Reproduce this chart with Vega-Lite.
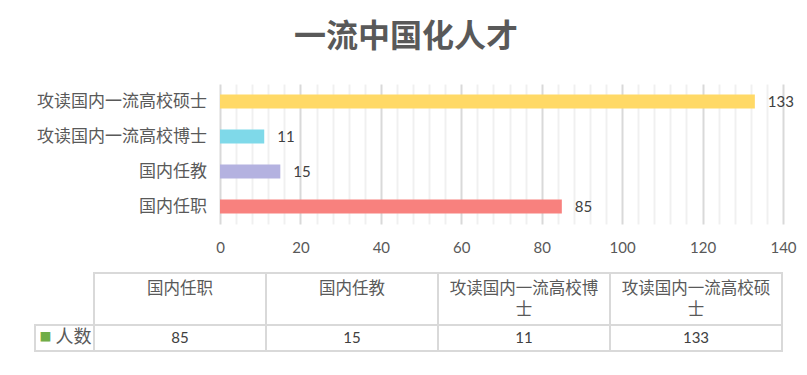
{
  "$schema": "https://vega.github.io/schema/vega-lite/v6.json",
  "padding": {"left": 34, "top": 21, "right": 10, "bottom": 10},
  "background": "white",
  "config": {
    "font": "Noto Sans CJK SC",
    "view": {"stroke": null}
  },
  "title": {
    "text": "一流中国化人才",
    "fontSize": 32,
    "fontWeight": "bold",
    "color": "#595959",
    "font": "Noto Sans CJK SC",
    "anchor": "middle",
    "dx": -9,
    "offset": 30
  },
  "datasets": {
    "talent": [
      {"category": "国内任职", "count": 85},
      {"category": "国内任教", "count": 15},
      {"category": "攻读国内一流高校博士", "count": 11},
      {"category": "攻读国内一流高校硕士", "count": 133}
    ],
    "rowhead": [
      {"label": "人数"}
    ]
  },
  "spacing": 17,
  "vconcat": [
    {
      "hconcat": [
        {
          "width": 185,
          "height": 140,
          "data": {"name": "talent"},
          "mark": {"type": "text", "align": "right", "baseline": "middle", "dx": -13, "fontSize": 17, "color": "#595959"},
          "encoding": {
            "x": {"value": "width"},
            "y": {
              "field": "category",
              "type": "nominal",
              "sort": ["攻读国内一流高校硕士", "攻读国内一流高校博士", "国内任教", "国内任职"],
              "scale": {"paddingInner": 0.6, "paddingOuter": 0.3},
              "axis": null
            },
            "text": {"field": "category"}
          }
        },
        {
          "width": 563,
          "height": 140,
          "data": {"name": "talent"},
          "encoding": {
            "y": {
              "field": "category",
              "type": "nominal",
              "sort": ["攻读国内一流高校硕士", "攻读国内一流高校博士", "国内任教", "国内任职"],
              "scale": {"paddingInner": 0.6, "paddingOuter": 0.3},
              "axis": null
            },
            "x": {
              "field": "count",
              "type": "quantitative",
              "scale": {"domain": [0, 140], "nice": false},
              "axis": {
                "title": null,
                "values": [0, 4, 8, 12, 16, 20, 24, 28, 32, 36, 40, 44, 48, 52, 56, 60, 64, 68, 72, 76, 80, 84, 88, 92, 96, 100, 104, 108, 112, 116, 120, 124, 128, 132, 136, 140],
                "labelExpr": "datum.value % 20 === 0 ? datum.label : ''",
                "grid": true,
                "gridColor": {"condition": {"test": "datum.value % 20 === 0", "value": "#d9d9d9"}, "value": "#f0f0f0"},
                "gridWidth": 2,
                "ticks": false,
                "tickSize": 0,
                "domain": false,
                "labelFont": "Lato",
                "labelFontSize": 15,
                "labelColor": "#595959",
                "labelPadding": 16,
                "labelFlush": false
              }
            }
          },
          "layer": [
            {
              "mark": {"type": "bar"},
              "encoding": {
                "color": {
                  "field": "category",
                  "type": "nominal",
                  "scale": {
                    "domain": ["国内任职", "国内任教", "攻读国内一流高校博士", "攻读国内一流高校硕士"],
                    "range": ["#F8817E", "#B4B2E0", "#7FD9E9", "#FFD966"]
                  },
                  "legend": null
                }
              }
            },
            {
              "mark": {"type": "text", "align": "left", "baseline": "middle", "dx": 13, "fontSize": 15, "font": "Lato", "color": "#404040"},
              "encoding": {
                "text": {"field": "count", "type": "quantitative"}
              }
            }
          ]
        }
      ],
      "spacing": 0,
      "bounds": "flush"
    },
    {
      "hconcat": [
        {
          "width": 59,
          "height": 78,
          "data": {"name": "rowhead"},
          "encoding": {
            "y": {"datum": 2, "type": "quantitative", "scale": {"domain": [0, 3], "reverse": true, "nice": false, "zero": false}, "axis": null}
          },
          "layer": [
            {
              "mark": {"type": "rect", "fill": "white", "stroke": "#d9d9d9", "strokeWidth": 2},
              "encoding": {"y2": {"datum": 3}}
            },
            {
              "mark": {"type": "text", "baseline": "middle", "dx": 9, "fontSize": 18, "color": "#595959"},
              "encoding": {"y": {"datum": 2.5, "type": "quantitative"}, "text": {"field": "label"}}
            },
            {
              "mark": {"type": "text", "baseline": "middle", "dx": -19, "fontSize": 12, "color": "#70AD47", "text": "■"},
              "encoding": {"y": {"datum": 2.5, "type": "quantitative"}}
            }
          ]
        },
        {
          "width": 688,
          "height": 78,
          "data": {"name": "talent"},
          "encoding": {
            "x": {
              "field": "category",
              "type": "nominal",
              "sort": ["国内任职", "国内任教", "攻读国内一流高校博士", "攻读国内一流高校硕士"],
              "scale": {"paddingInner": 0, "paddingOuter": 0},
              "axis": null
            }
          },
          "layer": [
            {
              "mark": {"type": "rect", "fill": "white", "stroke": "#d9d9d9", "strokeWidth": 2},
              "encoding": {
                "y": {"datum": 0, "type": "quantitative", "scale": {"domain": [0, 3], "reverse": true, "nice": false, "zero": false}, "axis": null},
                "y2": {"datum": 2}
              }
            },
            {
              "mark": {"type": "rect", "fill": "white", "stroke": "#d9d9d9", "strokeWidth": 2},
              "encoding": {
                "y": {"datum": 2, "type": "quantitative"},
                "y2": {"datum": 3}
              }
            },
            {
              "transform": [
                {"calculate": "length(datum.category) > 9 ? [slice(datum.category, 0, 9), slice(datum.category, 9)] : datum.category", "as": "header"}
              ],
              "mark": {"type": "text", "baseline": "top", "dy": 8, "fontSize": 16.5, "lineHeight": 21, "color": "#595959"},
              "encoding": {
                "y": {"datum": 0, "type": "quantitative"},
                "text": {"field": "header"}
              }
            },
            {
              "mark": {"type": "text", "baseline": "middle", "fontSize": 15, "font": "Lato", "color": "#404040"},
              "encoding": {
                "y": {"datum": 2.5, "type": "quantitative"},
                "text": {"field": "count", "type": "quantitative"}
              }
            }
          ]
        }
      ],
      "spacing": 0,
      "bounds": "flush"
    }
  ]
}
